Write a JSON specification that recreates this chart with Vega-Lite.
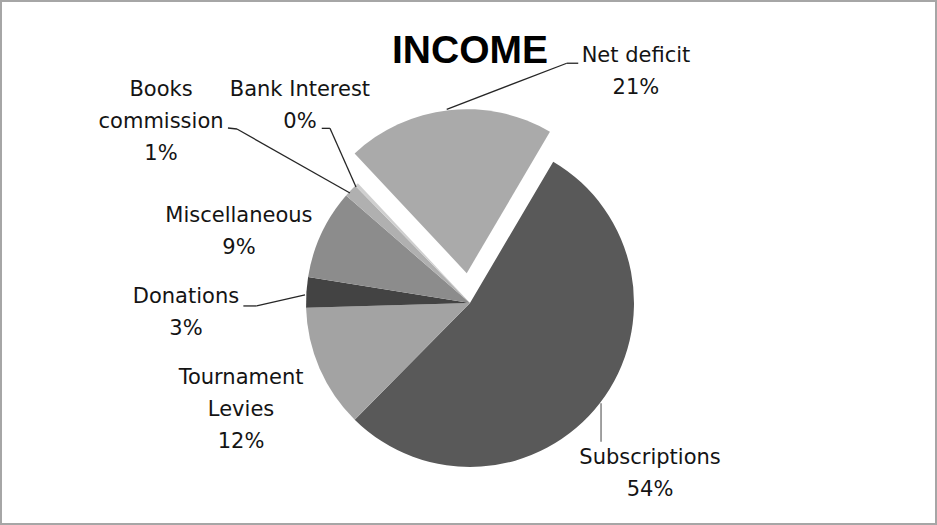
{
  "$schema": "https://vega.github.io/schema/vega-lite/v6.json",
  "width": 937,
  "height": 525,
  "autosize": {"type": "fit", "contains": "padding"},
  "padding": 1,
  "background": "white",
  "config": {"view": {"stroke": "#a6a6a6", "strokeWidth": 2}},
  "title": {"text": "INCOME", "font": "Liberation Sans", "fontSize": 39, "fontWeight": "bold", "color": "#000000", "anchor": "middle", "frame": "group", "offset": -70, "dx": 1.5},
  "data": {
    "values": [
      {"category": "Subscriptions", "value": 53.8, "idx": 1, "label": "Subscriptions\n54%"},
      {"category": "Tournament Levies", "value": 12.1, "idx": 2, "label": "Tournament\nLevies\n12%"},
      {"category": "Donations", "value": 3.0, "idx": 3, "label": "Donations\n3%"},
      {"category": "Miscellaneous", "value": 8.8, "idx": 4, "label": "Miscellaneous\n9%"},
      {"category": "Books commission", "value": 1.3, "idx": 5, "label": "Books\ncommission\n1%"},
      {"category": "Bank Interest", "value": 0.35, "idx": 6, "label": "Bank Interest\n0%"},
      {"category": "Net deficit", "value": 20.4, "idx": 7, "label": "Net deficit\n21%"}
    ]
  },
  "layer": [
    {
      "mark": {"type": "arc", "outerRadius": 164},
      "encoding": {
        "theta": {"field": "value", "type": "quantitative", "stack": true, "scale": {"range": [0.5323, 6.8155]}},
        "order": {"field": "idx", "type": "quantitative"},
        "color": {"field": "category", "type": "nominal", "legend": null, "scale": {"domain": ["Subscriptions", "Tournament Levies", "Donations", "Miscellaneous", "Books commission", "Bank Interest", "Net deficit"], "range": ["#595959", "#a3a3a3", "#434343", "#8c8c8c", "#b0b0b0", "#cfcfcf", "#aaaaaa"]}},
        "opacity": {"condition": {"test": "datum.category == 'Net deficit'", "value": 0}, "value": 1},
        "x": {"datum": 0, "type": "quantitative", "scale": {"domain": [-2.8598, 2.8415], "nice": false, "zero": false}, "axis": null},
        "y": {"datum": 0, "type": "quantitative", "scale": {"domain": [-1.3476, 1.8415], "nice": false, "zero": false}, "axis": null}
      }
    },
    {
      "mark": {"type": "arc", "outerRadius": 164},
      "encoding": {
        "theta": {"field": "value", "type": "quantitative", "stack": true},
        "order": {"field": "idx", "type": "quantitative"},
        "color": {"field": "category", "type": "nominal", "legend": null},
        "opacity": {"condition": {"test": "datum.category == 'Net deficit'", "value": 1}, "value": 0},
        "x": {"datum": -0.02, "type": "quantitative", "scale": {"domain": [-2.8598, 2.8415], "nice": false, "zero": false}, "axis": null},
        "y": {"datum": 0.182, "type": "quantitative", "scale": {"domain": [-1.3476, 1.8415], "nice": false, "zero": false}, "axis": null}
      }
    },
    {
      "transform": [{"filter": "datum.category == 'Net deficit'"}],
      "mark": {"type": "rule", "color": "#262626", "strokeWidth": 1.3},
      "encoding": {
        "x": {"datum": -0.142, "type": "quantitative", "scale": {"domain": [-2.8598, 2.8415], "nice": false, "zero": false}, "axis": null},
        "y": {"datum": 1.181, "type": "quantitative", "scale": {"domain": [-1.3476, 1.8415], "nice": false, "zero": false}, "axis": null},
        "x2": {"datum": 0.59},
        "y2": {"datum": 1.462}
      }
    },
    {
      "transform": [{"filter": "datum.category == 'Net deficit'"}],
      "mark": {"type": "rule", "color": "#262626", "strokeWidth": 1.3},
      "encoding": {
        "x": {"datum": 0.59, "type": "quantitative", "scale": {"domain": [-2.8598, 2.8415], "nice": false, "zero": false}, "axis": null},
        "y": {"datum": 1.462, "type": "quantitative", "scale": {"domain": [-1.3476, 1.8415], "nice": false, "zero": false}, "axis": null},
        "x2": {"datum": 0.66},
        "y2": {"datum": 1.462}
      }
    },
    {
      "transform": [{"filter": "datum.category == 'Books commission'"}],
      "mark": {"type": "rule", "color": "#262626", "strokeWidth": 1.3},
      "encoding": {
        "x": {"datum": -1.476, "type": "quantitative", "scale": {"domain": [-2.8598, 2.8415], "nice": false, "zero": false}, "axis": null},
        "y": {"datum": 1.067, "type": "quantitative", "scale": {"domain": [-1.3476, 1.8415], "nice": false, "zero": false}, "axis": null},
        "x2": {"datum": -1.421},
        "y2": {"datum": 1.061}
      }
    },
    {
      "transform": [{"filter": "datum.category == 'Books commission'"}],
      "mark": {"type": "rule", "color": "#262626", "strokeWidth": 1.3},
      "encoding": {
        "x": {"datum": -1.421, "type": "quantitative", "scale": {"domain": [-2.8598, 2.8415], "nice": false, "zero": false}, "axis": null},
        "y": {"datum": 1.061, "type": "quantitative", "scale": {"domain": [-1.3476, 1.8415], "nice": false, "zero": false}, "axis": null},
        "x2": {"datum": -0.732},
        "y2": {"datum": 0.671}
      }
    },
    {
      "transform": [{"filter": "datum.category == 'Bank Interest'"}],
      "mark": {"type": "rule", "color": "#262626", "strokeWidth": 1.3},
      "encoding": {
        "x": {"datum": -0.904, "type": "quantitative", "scale": {"domain": [-2.8598, 2.8415], "nice": false, "zero": false}, "axis": null},
        "y": {"datum": 1.065, "type": "quantitative", "scale": {"domain": [-1.3476, 1.8415], "nice": false, "zero": false}, "axis": null},
        "x2": {"datum": -0.854},
        "y2": {"datum": 1.065}
      }
    },
    {
      "transform": [{"filter": "datum.category == 'Bank Interest'"}],
      "mark": {"type": "rule", "color": "#262626", "strokeWidth": 1.3},
      "encoding": {
        "x": {"datum": -0.854, "type": "quantitative", "scale": {"domain": [-2.8598, 2.8415], "nice": false, "zero": false}, "axis": null},
        "y": {"datum": 1.065, "type": "quantitative", "scale": {"domain": [-1.3476, 1.8415], "nice": false, "zero": false}, "axis": null},
        "x2": {"datum": -0.695},
        "y2": {"datum": 0.707}
      }
    },
    {
      "transform": [{"filter": "datum.category == 'Donations'"}],
      "mark": {"type": "rule", "color": "#262626", "strokeWidth": 1.3},
      "encoding": {
        "x": {"datum": -1.382, "type": "quantitative", "scale": {"domain": [-2.8598, 2.8415], "nice": false, "zero": false}, "axis": null},
        "y": {"datum": -0.018, "type": "quantitative", "scale": {"domain": [-1.3476, 1.8415], "nice": false, "zero": false}, "axis": null},
        "x2": {"datum": -1.301},
        "y2": {"datum": -0.018}
      }
    },
    {
      "transform": [{"filter": "datum.category == 'Donations'"}],
      "mark": {"type": "rule", "color": "#262626", "strokeWidth": 1.3},
      "encoding": {
        "x": {"datum": -1.301, "type": "quantitative", "scale": {"domain": [-2.8598, 2.8415], "nice": false, "zero": false}, "axis": null},
        "y": {"datum": -0.018, "type": "quantitative", "scale": {"domain": [-1.3476, 1.8415], "nice": false, "zero": false}, "axis": null},
        "x2": {"datum": -1.006},
        "y2": {"datum": 0.049}
      }
    },
    {
      "transform": [{"filter": "datum.category == 'Subscriptions'"}],
      "mark": {"type": "rule", "color": "#6e6e6e", "strokeWidth": 1.3},
      "encoding": {
        "x": {"datum": 0.799, "type": "quantitative", "scale": {"domain": [-2.8598, 2.8415], "nice": false, "zero": false}, "axis": null},
        "y": {"datum": -0.612, "type": "quantitative", "scale": {"domain": [-1.3476, 1.8415], "nice": false, "zero": false}, "axis": null},
        "x2": {"datum": 0.799},
        "y2": {"datum": -0.846}
      }
    },
    {
      "transform": [{"filter": "datum.category == 'Net deficit'"}],
      "mark": {"type": "text", "font": "DejaVu Sans", "fontSize": 21, "lineHeight": 32, "align": "center", "baseline": "middle", "color": "#141414", "lineBreak": "\n"},
      "encoding": {
        "text": {"field": "label", "type": "nominal"},
        "x": {"datum": 1.012, "type": "quantitative", "scale": {"domain": [-2.8598, 2.8415], "nice": false, "zero": false}, "axis": null},
        "y": {"datum": 1.508, "type": "quantitative", "scale": {"domain": [-1.3476, 1.8415], "nice": false, "zero": false}, "axis": null}
      }
    },
    {
      "transform": [{"filter": "datum.category == 'Books commission'"}],
      "mark": {"type": "text", "font": "DejaVu Sans", "fontSize": 21, "lineHeight": 32, "align": "center", "baseline": "middle", "color": "#141414", "lineBreak": "\n"},
      "encoding": {
        "text": {"field": "label", "type": "nominal"},
        "x": {"datum": -1.884, "type": "quantitative", "scale": {"domain": [-2.8598, 2.8415], "nice": false, "zero": false}, "axis": null},
        "y": {"datum": 1.299, "type": "quantitative", "scale": {"domain": [-1.3476, 1.8415], "nice": false, "zero": false}, "axis": null}
      }
    },
    {
      "transform": [{"filter": "datum.category == 'Bank Interest'"}],
      "mark": {"type": "text", "font": "DejaVu Sans", "fontSize": 21, "lineHeight": 32, "align": "center", "baseline": "middle", "color": "#141414", "lineBreak": "\n"},
      "encoding": {
        "text": {"field": "label", "type": "nominal"},
        "x": {"datum": -1.037, "type": "quantitative", "scale": {"domain": [-2.8598, 2.8415], "nice": false, "zero": false}, "axis": null},
        "y": {"datum": 1.299, "type": "quantitative", "scale": {"domain": [-1.3476, 1.8415], "nice": false, "zero": false}, "axis": null}
      }
    },
    {
      "transform": [{"filter": "datum.category == 'Miscellaneous'"}],
      "mark": {"type": "text", "font": "DejaVu Sans", "fontSize": 21, "lineHeight": 32, "align": "center", "baseline": "middle", "color": "#141414", "lineBreak": "\n"},
      "encoding": {
        "text": {"field": "label", "type": "nominal"},
        "x": {"datum": -1.409, "type": "quantitative", "scale": {"domain": [-2.8598, 2.8415], "nice": false, "zero": false}, "axis": null},
        "y": {"datum": 0.53, "type": "quantitative", "scale": {"domain": [-1.3476, 1.8415], "nice": false, "zero": false}, "axis": null}
      }
    },
    {
      "transform": [{"filter": "datum.category == 'Donations'"}],
      "mark": {"type": "text", "font": "DejaVu Sans", "fontSize": 21, "lineHeight": 32, "align": "center", "baseline": "middle", "color": "#141414", "lineBreak": "\n"},
      "encoding": {
        "text": {"field": "label", "type": "nominal"},
        "x": {"datum": -1.732, "type": "quantitative", "scale": {"domain": [-2.8598, 2.8415], "nice": false, "zero": false}, "axis": null},
        "y": {"datum": 0.037, "type": "quantitative", "scale": {"domain": [-1.3476, 1.8415], "nice": false, "zero": false}, "axis": null}
      }
    },
    {
      "transform": [{"filter": "datum.category == 'Tournament Levies'"}],
      "mark": {"type": "text", "font": "DejaVu Sans", "fontSize": 21, "lineHeight": 32, "align": "center", "baseline": "middle", "color": "#141414", "lineBreak": "\n"},
      "encoding": {
        "text": {"field": "label", "type": "nominal"},
        "x": {"datum": -1.396, "type": "quantitative", "scale": {"domain": [-2.8598, 2.8415], "nice": false, "zero": false}, "axis": null},
        "y": {"datum": -0.455, "type": "quantitative", "scale": {"domain": [-1.3476, 1.8415], "nice": false, "zero": false}, "axis": null}
      }
    },
    {
      "transform": [{"filter": "datum.category == 'Subscriptions'"}],
      "mark": {"type": "text", "font": "DejaVu Sans", "fontSize": 21, "lineHeight": 32, "align": "center", "baseline": "middle", "color": "#141414", "lineBreak": "\n"},
      "encoding": {
        "text": {"field": "label", "type": "nominal"},
        "x": {"datum": 1.098, "type": "quantitative", "scale": {"domain": [-2.8598, 2.8415], "nice": false, "zero": false}, "axis": null},
        "y": {"datum": -0.947, "type": "quantitative", "scale": {"domain": [-1.3476, 1.8415], "nice": false, "zero": false}, "axis": null}
      }
    }
  ]
}
